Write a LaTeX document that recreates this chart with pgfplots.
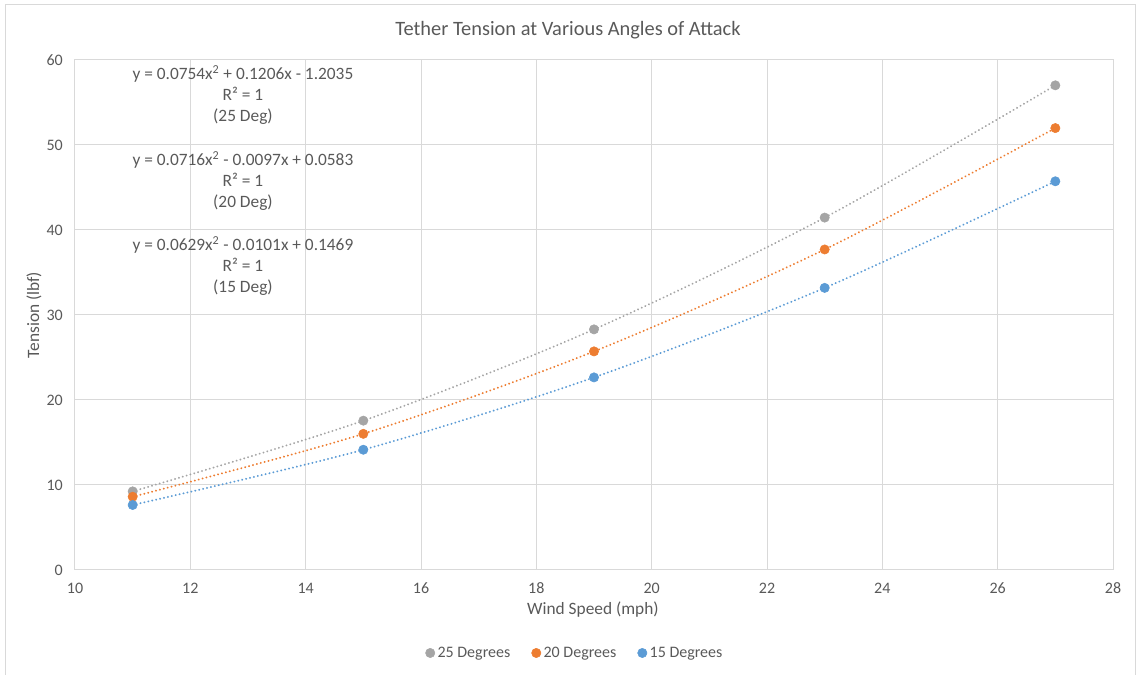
\documentclass[border=0pt]{standalone}
\usepackage{pgfplots}
\pgfplotsset{compat=1.18}
\usepackage{fontspec}
\setmainfont{Carlito}
\definecolor{txt}{HTML}{595959}
\definecolor{gridc}{HTML}{D9D9D9}
\definecolor{c25}{HTML}{A5A5A5}
\definecolor{c20}{HTML}{ED7D31}
\definecolor{c15}{HTML}{5B9BD5}

\pgfplotstableread{
x y
11 9.25
15 17.57
19 28.31
23 41.46
27 57.02
}\degA
\pgfplotstableread{
x y
11 8.62
15 16.02
19 25.72
23 37.71
27 51.99
}\degB
\pgfplotstableread{
x y
11 7.65
15 14.15
19 22.66
23 33.19
27 45.73
}\degC

\begin{document}
\begin{tikzpicture}
\useasboundingbox (0,0) rectangle (852pt,506.25pt);
\draw[gridc, line width=0.75pt] (3.75pt,-2pt) -- (3.75pt,502.5pt) -- (851.25pt,502.5pt) -- (851.25pt,-2pt);
\begin{axis}[
  at={(56.25pt,78.75pt)}, anchor=south west,
  scale only axis, width=778.5pt, height=382.5pt,
  clip mode=individual,
  xmin=10, xmax=28, ymin=0, ymax=60,
  xtick={10,12,...,28}, ytick={0,10,...,60},
  grid=major, major grid style={gridc, line width=0.75pt},
  axis line style={gridc, line width=0.75pt},
  tick style={draw=none},
  /pgf/number format/assume math mode=true,
  ticklabel style={font=\fontsize{12}{14}\selectfont, text=txt},
  xticklabel style={anchor=north, inner sep=0pt, yshift=-9.5pt},
  yticklabel style={anchor=east, inner sep=0pt, xshift=-9pt},
  xlabel={Wind Speed (mph)},
  xlabel style={at={(axis description cs:0.499,-0.0775)}, anchor=center, font=\fontsize{13}{16}\selectfont, text=txt},
  ylabel={Tension (lbf)},
  ylabel style={at={(axis description cs:-0.0395,0.5)}, anchor=center, rotate=0, font=\fontsize{13}{16}\selectfont, text=txt},
  legend columns=3,
  legend style={at={(axis description cs:0.482,-0.1627)}, anchor=center, draw=none, fill=none,
    font=\fontsize{12}{14}\selectfont, text=txt,
    /tikz/every even column/.append style={column sep=14pt}},
  legend image code/.code={\draw[#1] plot[only marks] coordinates {(0.12cm,0cm)};},
  trend/.style={no marks, smooth, line width=1.6pt, line cap=round, dash pattern=on 0.01pt off 3pt},
  pts/.style={only marks, mark=*, mark size=3.5pt},
]
\addplot[trend, c25, forget plot] table[x=x,y=y] {\degA};
\addplot[trend, c20, forget plot] table[x=x,y=y] {\degB};
\addplot[trend, c15, forget plot] table[x=x,y=y] {\degC};
\addplot[pts, c25, fill=c25] table[x=x,y=y] {\degA};
\addlegendentry{25 Degrees}
\addplot[pts, c20, fill=c20] table[x=x,y=y] {\degB};
\addlegendentry{20 Degrees}
\addplot[pts, c15, fill=c15] table[x=x,y=y] {\degC};
\addlegendentry{15 Degrees}

\node[anchor=center, font=\fontsize{15.3}{18}\selectfont, text=txt] at (axis description cs:0.475,1.0588)
  {Tether Tension at Various Angles of Attack};
\node[align=center, font=\fontsize{13}{15.75}\selectfont, text=txt] at (axis description cs:0.1618,0.9314)
  {y = 0.0754x\textsuperscript{2} + 0.1206x - 1.2035\\R² = 1\\(25 Deg)};
\node[align=center, font=\fontsize{13}{15.75}\selectfont, text=txt] at (axis description cs:0.1618,0.7627)
  {y = 0.0716x\textsuperscript{2} - 0.0097x + 0.0583\\R² = 1\\(20 Deg)};
\node[align=center, font=\fontsize{13}{15.75}\selectfont, text=txt] at (axis description cs:0.1618,0.5961)
  {y = 0.0629x\textsuperscript{2} - 0.0101x + 0.1469\\R² = 1\\(15 Deg)};
\end{axis}
\end{tikzpicture}
\end{document}
